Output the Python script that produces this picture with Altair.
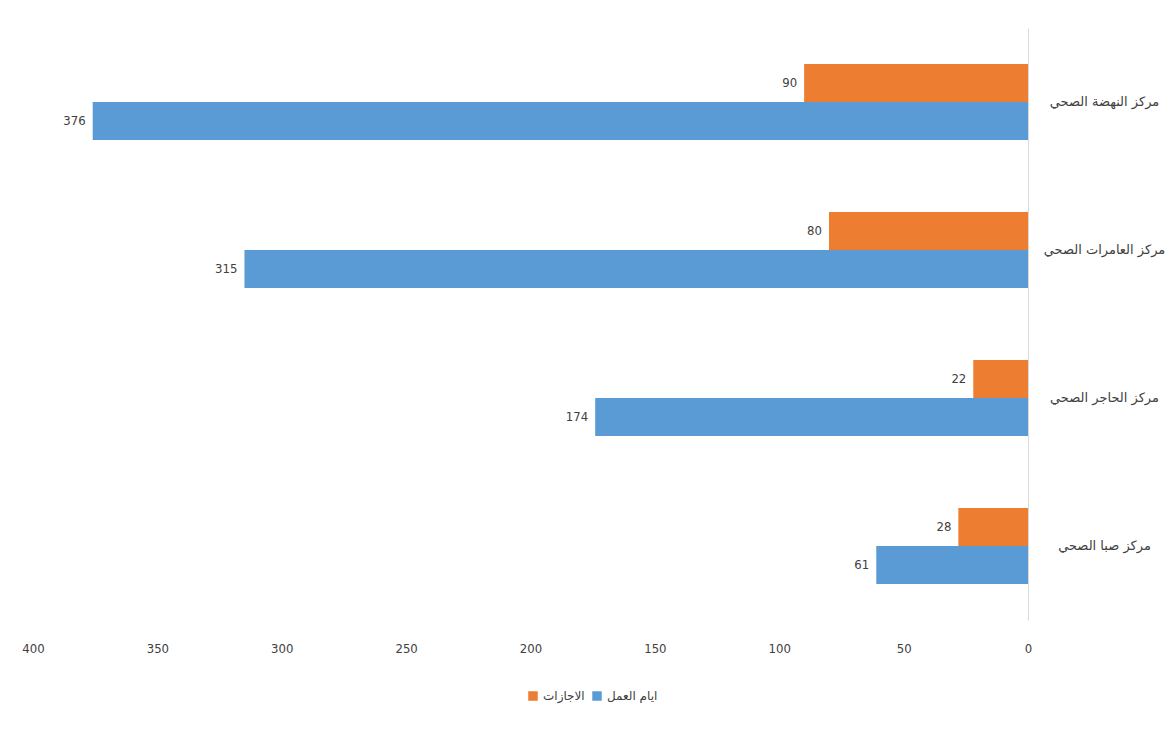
import altair as alt
import pandas as pd

categories = ["مركز النهضة الصحي", "مركز العامرات الصحي", "مركز الحاجر الصحي", "مركز صبا الصحي"]
series = ["الاجازات", "ايام العمل"]
leave_days = [90, 80, 22, 28]
work_days = [376, 315, 174, 61]
colors = ["#ED7D31", "#5B9BD5"]
x_ticks = [0, 50, 100, 150, 200, 250, 300, 350, 400]

rows = []
for c, l, w in zip(categories, leave_days, work_days):
    rows.append({"center": c, "series": series[0], "value": l})
    rows.append({"center": c, "series": series[1], "value": w})
df = pd.DataFrame(rows)

num_font = "DejaVu Sans Condensed"
ar_font = "DejaVu Sans"

base = alt.Chart(df).encode(
    y=alt.Y("center:N", sort=categories,
            scale=alt.Scale(paddingInner=0.486, paddingOuter=0.243),
            axis=alt.Axis(orient="right", title=None, ticks=False, domainColor="#d9d9d9",
                          labelAlign="center", labelPadding=76, labelFont=ar_font,
                          labelFontSize=13, labelColor="#404040")),
    yOffset=alt.YOffset("series:N", sort=series),
)

bars = base.mark_bar().encode(
    x=alt.X("value:Q", scale=alt.Scale(domain=[0, 400], reverse=True, nice=False),
            axis=alt.Axis(values=x_ticks, title=None, grid=False, domain=False, ticks=False,
                          labelFlush=False, labelOverlap=False,
                          labelFont=num_font, labelFontSize=13, labelColor="#404040",
                          labelPadding=22)),
    color=alt.Color("series:N", scale=alt.Scale(domain=series, range=colors),
                    legend=alt.Legend(title=None, orient="none", direction="horizontal",
                                      legendX=494, legendY=662, symbolType="square",
                                      symbolSize=90, symbolStrokeWidth=0,
                                      labelFont=ar_font, labelFontSize=12,
                                      labelColor="#404040", columnPadding=6,
                                      labelOffset=4, symbolOpacity=1)),
)

labels = base.mark_text(align="right", baseline="middle", dx=-7, font=num_font,
                        fontSize=13, color="#404040").encode(
    x=alt.X("value:Q"),
    text=alt.Text("value:Q"),
)

chart = (bars + labels).properties(
    width=995, height=592,
    background="white",
    autosize=alt.AutoSizeParams(type="none"),
    padding={"left": 25, "top": 20, "right": 140, "bottom": 100},
).configure_view(strokeWidth=0, stroke=None)

chart.save("out.html", embed_options={"renderer": "svg", "actions": False})
